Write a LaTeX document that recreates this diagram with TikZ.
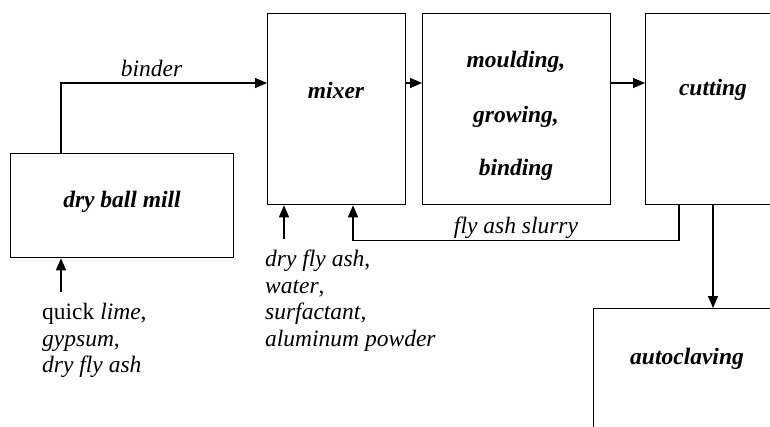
\documentclass[tikz,border=0pt]{standalone}
\usepackage{fontspec}
\setmainfont{Liberation Serif}
\usetikzlibrary{arrows.meta,calc}
\begin{document}
\begin{tikzpicture}[x=1pt,y=-1pt,
  box/.style={draw,line width=1.3pt,inner sep=0pt,anchor=north west},
  flow/.style={line width=1.3pt,-{Triangle[length=12pt,width=10pt]}},
  lbl/.style={font=\fontsize{23.5}{26.5}\selectfont\itshape,inner sep=0pt},
  plain/.style={font=\fontsize{23.5}{26.5}\selectfont,inner sep=0pt,align=left,anchor=north west},
  title/.style={font=\fontsize{23.5}{26.5}\selectfont\bfseries\itshape,inner sep=0pt}]
\clip (0,0) rectangle (770,426);

% process stages
\node[box,minimum width=223pt,minimum height=104pt] (mill)  at (10,153) {};
\node[box,minimum width=138pt,minimum height=191pt] (mixer) at (267,13) {};
\node[box,minimum width=188pt,minimum height=191pt] (mould) at (422,13) {};
\node[box,minimum width=160pt,minimum height=191pt] (cut)   at (645,13) {};
\node[box,minimum width=220pt,minimum height=150pt] (auto)  at (593,308) {};

% stage names
\node[title] (tmill)  at (122,202) {dry ball mill};
\node[title] (tmixer) at (336,90)  {mixer};
\node[title] (tmou1)  at (516,62)  {moulding,};
\node[title] (tmou2)  at (516,117) {growing,};
\node[title] (tmou3)  at (516,170) {binding};
\node[title] (tcut)   at (713,90)  {cutting};
\node[title] (tauto)  at (687,359) {autoclaving};

% main flow
\draw[flow] ($(mill.north west)+(51,0)$) |- ($(mixer.north west)+(0,70)$)
  node[lbl,pos=0.72,above=6pt] (lbinder) {binder};
\draw[flow] ($(mixer.north east)+(0,70)$) -- ($(mould.north west)+(0,70)$);
\draw[flow] ($(mould.north east)+(0,70)$) -- ($(cut.north west)+(0,70)$);
\draw[flow] ($(cut.south west)+(68,0)$) -- ($(auto.north west)+(120,0)$);

% slurry return to the mixer
\draw[flow] ($(cut.south west)+(34,0)$) |- ($(mixer.south west)+(86,35)$)
  -- ($(mixer.south west)+(86,0)$);
\node[lbl] (lslurry) at (516,228) {fly ash slurry};

% raw material feeds
\coordinate (feedmill) at (61,292);
\coordinate (feedmix) at (284,239);
\draw[flow] (feedmill) -- (feedmill |- mill.south);
\draw[flow] (feedmix) -- (feedmix |- mixer.south);

\node[plain] (rawmill) at (42,303) {quick \textit{lime},\\\textit{gypsum},\\\textit{dry fly ash}};
\node[plain] (rawmix) at (265,250) {\textit{dry fly ash},\\\textit{water},\\\textit{surfactant},\\\textit{aluminum powder}};
\end{tikzpicture}
\end{document}
